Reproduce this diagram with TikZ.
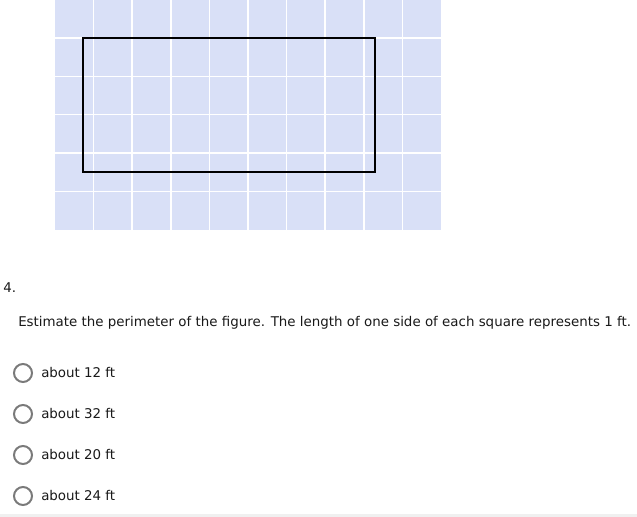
\documentclass[tikz,border=0pt]{standalone}
\usepackage{fontspec}
\setmainfont{DejaVu Sans}
\usepackage{tikz}
\usetikzlibrary{calc}

\definecolor{gridblue}{HTML}{D9E0F7}
\definecolor{radiogray}{HTML}{7A7A7A}
\definecolor{footgray}{HTML}{F0F0F0}

\begin{document}
\begin{tikzpicture}[x=0.75pt, y=-0.75pt,
    qtext/.style={anchor=west, inner sep=0, font=\fontsize{10.05pt}{12pt}\selectfont, text=black!90},
    radio/.style={circle, draw=radiogray, line width=1.5pt, minimum size=13.5pt, inner sep=0}]
  \useasboundingbox (0,0) rectangle (637,517);

  % grid of squares
  \fill[gridblue] (55,0) rectangle (441,230);
  \foreach \i in {1,...,9}
    \draw[white, line width=1.1pt] ({55+38.6*\i},0) -- ({55+38.6*\i},230);
  \foreach \j in {1,...,5}
    \draw[white, line width=1.1pt] (55,{38.4*\j-0.5}) -- (441,{38.4*\j-0.5});

  % the figure
  \draw[line width=1.5pt] (83,38) rectangle (375,172);

  \node[qtext] (num) at (3,288) {4.};
  \node[qtext] (ask) at (18,323)
    {Estimate the perimeter of the figure. The length of one side of each square represents 1 ft.};

  \node[radio] (ra) at (23,373) {};
  \node[radio] (rb) at (23,414) {};
  \node[radio] (rc) at (23,455) {};
  \node[radio] (rd) at (23,496) {};

  \node[qtext] (oa) at (41,373) {about 12 ft};
  \node[qtext] (ob) at (41,414) {about 32 ft};
  \node[qtext] (oc) at (41,455) {about 20 ft};
  \node[qtext] (od) at (41,496) {about 24 ft};

  \fill[footgray] (0,514) rectangle (637,517);
\end{tikzpicture}
\end{document}
